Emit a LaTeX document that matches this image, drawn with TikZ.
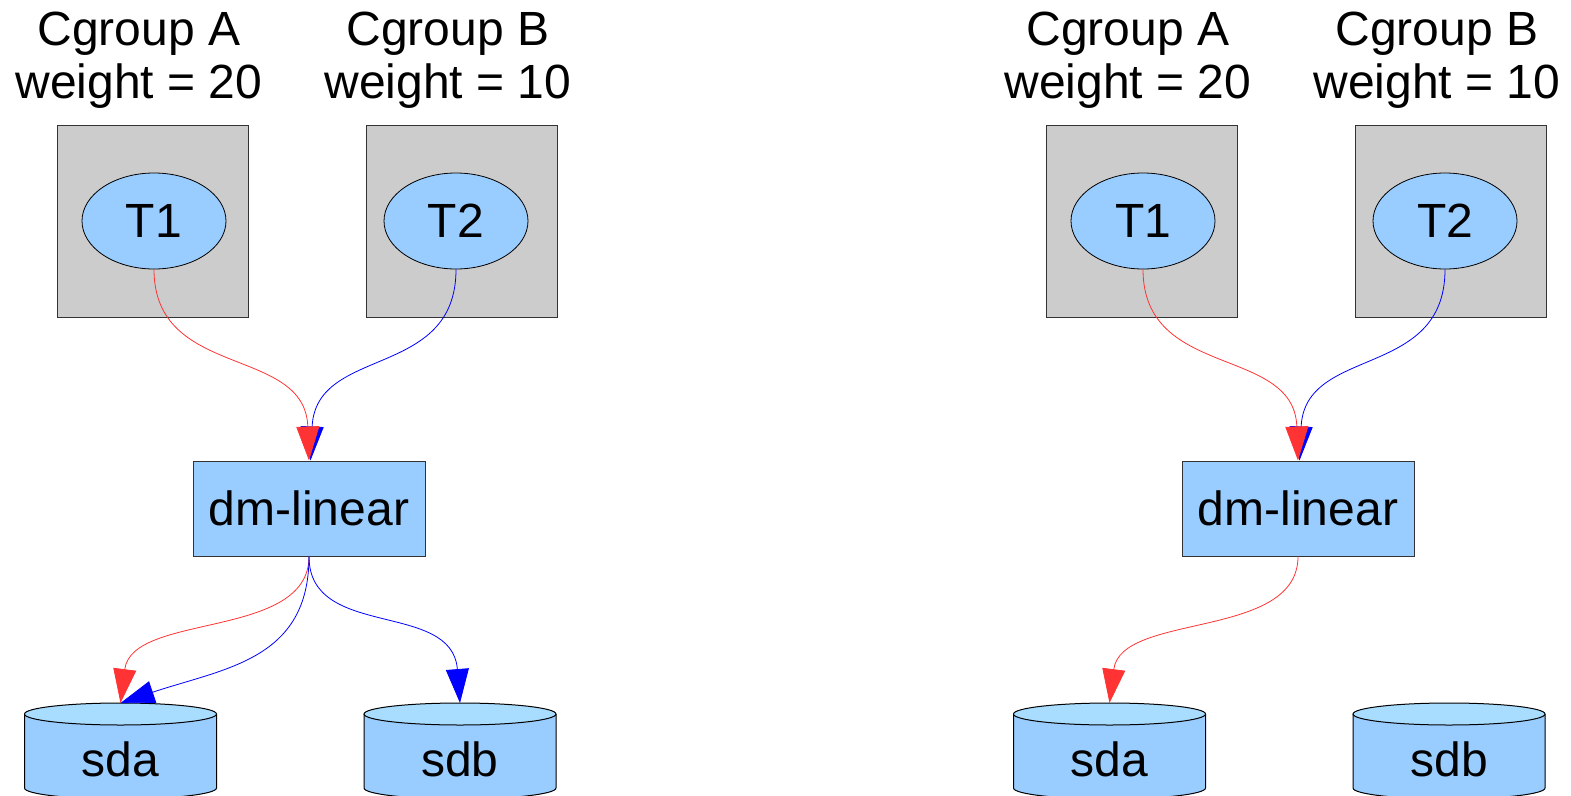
\documentclass[tikz,border=0pt]{standalone}
\usepackage{fontspec}
\setmainfont{Liberation Sans}
\usetikzlibrary{arrows.meta,shapes.geometric}
\definecolor{boxgray}{HTML}{CCCCCC}
\definecolor{lblue}{HTML}{99CCFF}
\definecolor{ltop}{HTML}{A8DDFF}
\definecolor{edgegray}{HTML}{333333}
\definecolor{arrred}{HTML}{FF3333}
\definecolor{arrblue}{HTML}{0000FF}
\newcommand\mydisk[3]{%
  \fill[lblue] (#2-96,714) -- (#2-96,788) arc[start angle=180,end angle=360,x radius=96pt,y radius=11pt] -- (#2+96,714) -- cycle;
  \draw[line width=1pt,black] (#2-96,714) -- (#2-96,788) arc[start angle=180,end angle=360,x radius=96pt,y radius=11pt] -- (#2+96,714);
  \filldraw[fill=ltop,draw=black,line width=1pt] (#2,714) ellipse[x radius=96pt,y radius=11pt];
  \node[txt] (#1) at (#2,759) {#3};
  \coordinate (#1top) at (#2,703);
}
\newcommand\myhalf[1]{%
  \node[txt,align=center,anchor=north,inner sep=0pt] (#1labA) at (139,12) {Cgroup A\\weight = 20};
  \node[txt,align=center,anchor=north,inner sep=0pt] (#1labB) at (448,12) {Cgroup B\\weight = 10};
  \node[cgbox] (#1cgA) at (152.5,221) {};
  \node[cgbox] (#1cgB) at (462,221) {};
  \node[task] (#1T1) at (154,221) {T1};
  \node[task] (#1T2) at (456,221) {T2};
  \node[dmbox] (#1dm) at (309,508.5) {dm-linear};
  \mydisk{#1sda}{120.5}{sda}
  \mydisk{#1sdb}{460}{sdb}
  \draw[bluearr] (#1T2.south) .. controls (456,380) and (316,345) .. ([xshift=1.5pt]#1dm.north);
  \draw[redarr] (#1T1.south) .. controls (154,380) and (305,345) .. (#1dm.north);
  \draw[redarr] (#1dm.south) .. controls (309,640) and (132,612) .. (#1sdatop);
}
\tikzset{
  txt/.style={font=\fontsize{48}{53}\selectfont, text=black},
  cgbox/.style={draw=edgegray, fill=boxgray, line width=1pt, minimum width=191pt, minimum height=192pt, inner sep=0pt},
  task/.style={ellipse, draw=black, fill=lblue, line width=0.8pt, minimum width=144pt, minimum height=96pt, inner sep=0pt, txt},
  dmbox/.style={draw=edgegray, fill=lblue, line width=1pt, minimum width=232pt, minimum height=95pt, inner sep=0pt, txt},
  redarr/.style={draw=arrred, line width=0.8pt, -{Triangle[length=34pt,width=23pt]}},
  bluearr/.style={draw=arrblue, line width=0.8pt, -{Triangle[length=34pt,width=23pt]}},
}
\begin{document}
\begin{tikzpicture}[x=1pt,y=-1pt]
\useasboundingbox (0,0) rectangle (1571,795);
\clip (0,0) rectangle (1571,795);
\myhalf{L}
\draw[bluearr] (Ldm.south) .. controls (309,660) and (225,668) .. (Lsdatop);
\draw[bluearr] (Ldm.south) .. controls (309,640) and (452,600) .. (Lsdbtop);
\begin{scope}[xshift=989pt]
\myhalf{R}
\end{scope}
\end{tikzpicture}
\end{document}
